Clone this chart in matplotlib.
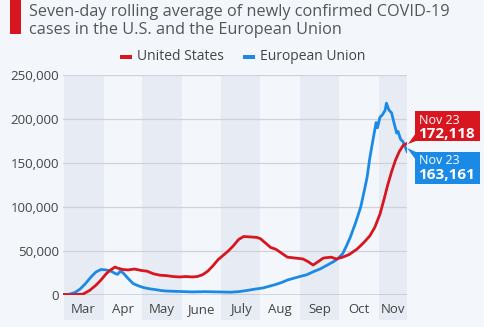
import matplotlib
matplotlib.use("Agg")
import matplotlib.pyplot as plt
from matplotlib.patches import Rectangle, Polygon
from matplotlib.transforms import blended_transform_factory

# ---- data (days since Mar 1, 2020) ----
us_days = [0, 5, 10, 15, 20, 25, 29, 33, 36, 40, 42, 46, 50, 55, 60, 65, 70, 75, 80, 85,
           90, 95, 100, 104, 108, 112, 116, 120, 124, 128, 132, 136, 140, 145, 150, 153,
           157, 161, 165, 170, 174, 180, 186, 190, 194, 198, 202, 208, 212, 217, 222,
           228, 233, 238, 242, 246, 249, 252, 255, 258, 261, 264, 267]
us_values = [500, 300, 600, 1000, 5000, 11000, 17000, 24000, 28000, 31800, 30500, 29000,
             28500, 29500, 28000, 27000, 24000, 22500, 22000, 21000, 20500, 21000, 20500,
             21000, 23000, 27000, 33000, 40000, 45000, 50000, 56000, 63000, 66500, 66000,
             65500, 64000, 59000, 54000, 52000, 47000, 43000, 42000, 41000, 38000, 34000,
             38000, 42000, 43000, 41000, 43000, 46000, 52000, 59000, 67000, 77000, 92000,
             108000, 125000, 140000, 153000, 163000, 170000, 172118]

eu_days = [0, 5, 9, 13, 17, 21, 25, 29, 33, 37, 40, 42, 44, 46, 50, 54, 58, 62, 67, 72,
           76, 80, 90, 100, 110, 120, 130, 136, 142, 148, 155, 160, 165, 170, 174, 180,
           185, 189, 195, 200, 205, 210, 213, 217, 220, 223, 227, 231, 234, 236, 238,
           241, 243, 244, 246, 248, 250, 251, 253, 255, 257, 259, 260, 262, 264, 267]
eu_values = [300, 1000, 3000, 7000, 13000, 20000, 26000, 29000, 28500, 27000, 24500,
             23500, 27000, 25500, 19000, 13000, 10500, 8500, 7000, 6000, 5000, 4500, 4000,
             3500, 3800, 3500, 3200, 3800, 5000, 6500, 8000, 10000, 12000, 14500, 17000,
             19500, 21500, 23000, 27000, 30000, 34000, 38000, 41000, 47000, 56000, 66000,
             82000, 100000, 120000, 134000, 155000, 180000, 196000, 190000, 202000, 205000,
             210000, 218000, 210000, 207000, 195000, 184000, 186000, 177000, 174000, 163161]

month_labels = ["Mar", "Apr", "May", "June", "July", "Aug", "Sep", "Oct", "Nov"]
month_starts = [0, 31, 61, 92, 122, 153, 184, 214, 245, 267]
y_ticks = [0, 50000, 100000, 150000, 200000, 250000]

series_names = ["United States", "European Union"]
end_label = "Nov 23"
us_end = "172,118"
eu_end = "163,161"

title_lines = ["Seven-day rolling average of newly confirmed COVID-19",
               "cases in the U.S. and the European Union"]

RED = "#d7161f"
BLUE = "#1b8ae6"
BG = "#f3f6fa"
BAND = "#e7ecf4"
TXT = "#444444"

plt.rcParams['font.family'] = ['Open Sans', 'DejaVu Sans']

W, H = 485, 327
fig = plt.figure(figsize=(W / 100, H / 100), dpi=100, facecolor=BG)

def fx(x):
    return x / W

def fy(y):
    return 1 - y / H

L, R, T, B = 63, 407, 75, 295
ax = fig.add_axes([fx(L), fy(B), fx(R) - fx(L), fy(T) - fy(B)])
ax.set_facecolor(BG)

xmin, xmax = -0.5, 267
ax.set_xlim(xmin, xmax)
ax.set_ylim(0, 250000)

# month bands
trans = blended_transform_factory(ax.transData, ax.transAxes)
band_bottom = -(320 - B) / (B - T)
for i in range(len(month_labels)):
    if i % 2 == 0:
        x0 = max(month_starts[i], xmin)
        x1 = month_starts[i + 1]
        ax.add_patch(Rectangle((x0, band_bottom), x1 - x0, 1 - band_bottom,
                               transform=trans, facecolor=BAND, edgecolor='none',
                               clip_on=False, zorder=0))

for yt in y_ticks[1:]:
    ax.axhline(yt, color="#cfd3d9", lw=0.9, zorder=1)
ax.axhline(0, color="#555555", lw=1.0, zorder=1)

ax.plot(eu_days, eu_values, color=BLUE, lw=2.0, zorder=3, solid_joinstyle='round')
ax.plot(us_days, us_values, color=RED, lw=2.0, zorder=4, solid_joinstyle='round')

for s in ax.spines.values():
    s.set_visible(False)

ax.set_yticks(y_ticks)
ax.set_yticklabels([f"{v:,}" for v in y_ticks], fontsize=9.5, color=TXT)
centers = [(month_starts[i] + month_starts[i + 1]) / 2 for i in range(len(month_labels))]
ax.set_xticks(centers)
ax.set_xticklabels(month_labels, fontsize=9.5, color=TXT)
ax.tick_params(axis='both', length=0)
ax.tick_params(axis='y', pad=3)
ax.tick_params(axis='x', pad=6)

# title
fig.add_artist(Rectangle((fx(10), fy(34)), fx(21) - fx(10), fy(0) - fy(34),
                         transform=fig.transFigure, facecolor=RED, edgecolor='none'))
fig.text(fx(29), fy(16), title_lines[0], fontsize=11.7, color="#555555",
         va='baseline', ha='left')
fig.text(fx(29), fy(33.5), title_lines[1], fontsize=11.7, color="#555555",
         va='baseline', ha='left')

# legend
fig.add_artist(Rectangle((fx(120), fy(58.5)), fx(12), 3 / H,
                         transform=fig.transFigure, facecolor=RED, edgecolor='none'))
fig.text(fx(137), fy(56), series_names[0], fontsize=10, color=TXT, va='center', ha='left')
fig.add_artist(Rectangle((fx(243), fy(58.5)), fx(12), 3 / H,
                         transform=fig.transFigure, facecolor=BLUE, edgecolor='none'))
fig.text(fx(260), fy(56), series_names[1], fontsize=10, color=TXT, va='center', ha='left')

# end labels
def end_box(y0, y1, color, value, tri):
    fig.add_artist(Rectangle((fx(415), fy(y1)), fx(480) - fx(415), fy(y0) - fy(y1),
                             transform=fig.transFigure, facecolor=color, edgecolor='none'))
    fig.add_artist(Polygon([(fx(a), fy(b)) for a, b in tri], closed=True,
                           transform=fig.transFigure, facecolor=color, edgecolor='none'))
    fig.text(fx(419), fy(y0 + 9), end_label, fontsize=9, color='white', va='center', ha='left')
    fig.text(fx(418), fy(y0 + 23), value, fontsize=11, color='white', va='center',
             ha='left', fontweight='bold')

end_box(111, 141, RED, us_end, [(408, 144), (416, 133), (416, 141)])
end_box(152, 184, BLUE, eu_end, [(407, 148), (416, 152), (416, 160)])

fig.savefig("out.png", dpi=100, facecolor=BG)
